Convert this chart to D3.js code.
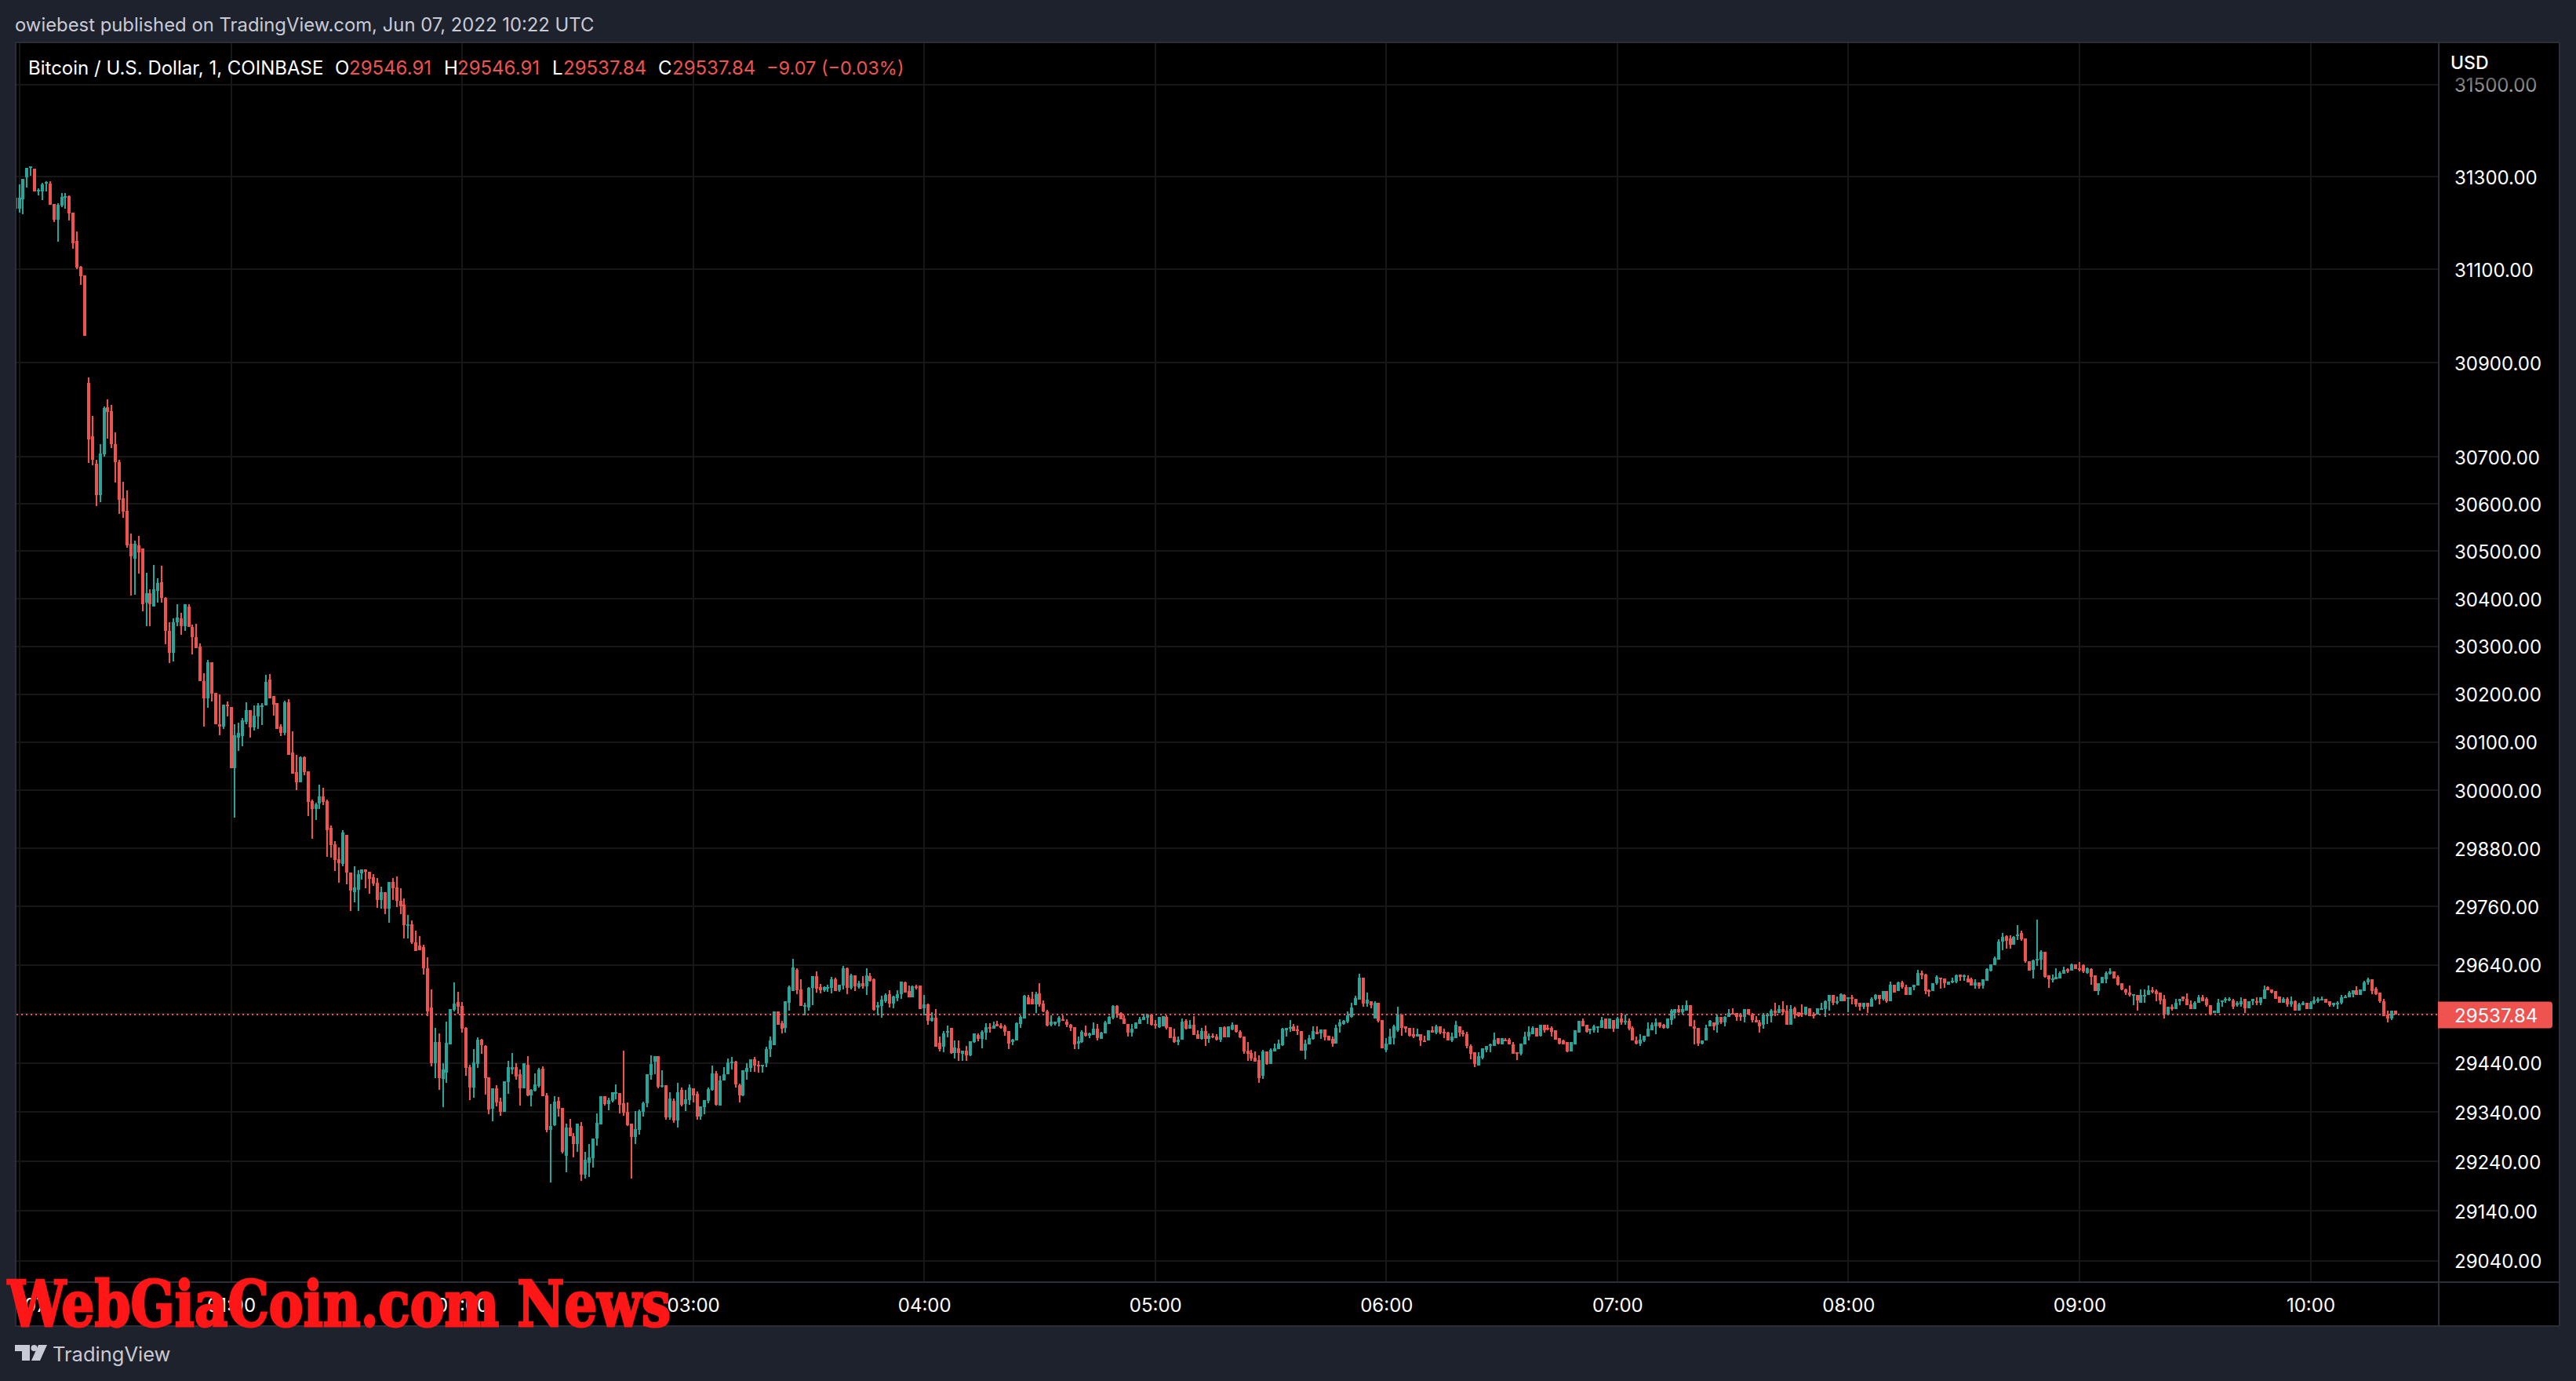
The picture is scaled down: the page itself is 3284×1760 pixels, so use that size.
<!DOCTYPE html>
<html>
<head>
<meta charset="utf-8">
<title>BTCUSD</title>
<script src="https://cdn.jsdelivr.net/npm/d3@7/dist/d3.min.js"></script>
<style>
  html, body { margin: 0; padding: 0; background: #1e222d; overflow: hidden; }
  text { font-family: Inter, "Noto Sans", sans-serif; }
</style>
</head>
<body>
<script>
// one minute candles. first bar is 00:04, last is 10:22
var FIRST_MINUTE = 4;

var opens = [
31255,31231,31251,31298,31319,31317,31268,31268,31285,31285,
31241,31207,31238,31254,31258,31222,31161,31106,31087,30857,
30743,30685,30619,30705,30805,30797,30726,30689,30611,30586,
30515,30484,30512,30506,30392,30412,30384,30417,30435,30402,
30333,30287,30351,30358,30342,30384,30340,30320,30299,30228,
30192,30266,30202,30137,30133,30179,30174,30046,30109,30112,
30143,30166,30130,30153,30174,30176,30230,30196,30181,30132,
30120,30183,30079,30038,30017,30069,30040,29978,29961,29973,
29987,29978,29923,29889,29858,29848,29907,29830,29789,29795,
29828,29836,29832,29820,29809,29774,29790,29756,29811,29799,
29771,29763,29721,29724,29686,29680,29676,29633,29553,29440,
29483,29408,29420,29478,29548,29564,29556,29511,29432,29390,
29438,29487,29475,29411,29347,29388,29361,29340,29401,29427,
29432,29417,29388,29436,29374,29384,29393,29428,29374,29304,
29313,29363,29348,29252,29308,29292,29275,29312,29214,29238,
29246,29286,29315,29372,29356,29363,29379,29379,29358,29340,
29316,29289,29304,29340,29358,29416,29443,29454,29392,29395,
29329,29363,29323,29385,29356,29364,29388,29377,29331,29350,
29363,29385,29419,29353,29404,29417,29441,29443,29395,29374,
29422,29430,29447,29436,29433,29440,29468,29476,29545,29521,
29512,29563,29587,29630,29590,29556,29553,29593,29617,29595,
29588,29592,29593,29611,29588,29598,29633,29593,29619,29595,
29602,29596,29617,29610,29553,29556,29566,29580,29561,29572,
29580,29604,29586,29574,29596,29598,29551,29559,29526,29532,
29481,29473,29503,29511,29460,29470,29459,29465,29456,29483,
29497,29489,29502,29513,29510,29519,29516,29515,29505,29483,
29486,29519,29531,29574,29570,29559,29582,29561,29545,29518,
29519,29523,29529,29524,29518,29513,29480,29483,29502,29495,
29497,29510,29489,29500,29519,29532,29556,29542,29531,29519,
29502,29510,29519,29527,29532,29539,29519,29513,29515,29534,
29513,29494,29483,29488,29526,29510,29518,29499,29489,29505,
29489,29495,29494,29487,29513,29492,29508,29518,29503,29494,
29465,29460,29451,29446,29414,29464,29438,29464,29468,29476,
29507,29510,29515,29508,29505,29465,29478,29489,29503,29500,
29508,29495,29489,29480,29515,29519,29524,29534,29558,29569,
29614,29561,29566,29531,29562,29528,29466,29478,29491,29506,
29538,29514,29512,29499,29493,29498,29486,29485,29506,29502,
29515,29504,29502,29485,29491,29515,29501,29499,29474,29461,
29435,29450,29467,29475,29475,29490,29478,29488,29488,29478,
29461,29459,29478,29493,29499,29512,29496,29517,29512,29512,
29506,29490,29486,29482,29464,29478,29502,29525,29518,29506,
29507,29514,29512,29530,29509,29528,29509,29531,29525,29525,
29512,29486,29480,29485,29494,29507,29515,29523,29517,29512,
29528,29542,29549,29544,29547,29557,29515,29512,29480,29485,
29514,29523,29517,29533,29522,29533,29542,29542,29539,29533,
29549,29539,29528,29523,29517,29538,29536,29547,29542,29550,
29546,29517,29552,29544,29542,29538,29552,29538,29538,29549,
29550,29565,29579,29563,29566,29579,29570,29573,29571,29563,
29555,29563,29554,29570,29578,29570,29586,29566,29600,29587,
29605,29595,29579,29595,29598,29624,29621,29589,29586,29602,
29614,29613,29600,29605,29606,29621,29616,29613,29611,29598,
29605,29598,29608,29629,29640,29651,29688,29699,29694,29682,
29699,29706,29694,29648,29630,29650,29651,29667,29619,29610,
29610,29613,29622,29632,29629,29642,29634,29640,29624,29632,
29618,29586,29602,29611,29622,29626,29616,29603,29590,29584,
29579,29579,29563,29576,29579,29589,29586,29584,29570,29538,
29554,29550,29566,29576,29571,29560,29550,29562,29574,29570,
29557,29541,29541,29566,29568,29570,29568,29557,29560,29570,
29552,29565,29566,29563,29571,29594,29590,29586,29576,29562,
29571,29560,29565,29546,29558,29562,29550,29562,29565,29568,
29571,29565,29557,29562,29562,29573,29573,29581,29589,29578,
29587,29605,29611,29592,29584,29566,29538,29531,29546.91
];

var highs = [
31263,31283,31295,31319,31322,31317,31275,31286,31290,31290,
31241,31243,31265,31265,31259,31222,31182,31107,31087,30868,
30787,30694,30727,30807,30822,30810,30751,30694,30646,30628,
30538,30522,30533,30506,30455,30419,30471,30443,30470,30404,
30351,30358,30389,30371,30389,30388,30345,30347,30306,30243,
30271,30266,30202,30199,30179,30184,30174,30138,30140,30151,
30183,30166,30176,30181,30181,30240,30242,30197,30181,30138,
30186,30189,30123,30073,30071,30071,30040,29981,29974,30012,
30005,29981,29927,29894,29882,29917,29907,29830,29843,29835,
29836,29836,29832,29827,29819,29801,29790,29811,29819,29822,
29798,29777,29742,29732,29710,29699,29681,29656,29590,29512,
29500,29440,29524,29550,29604,29585,29564,29513,29436,29468,
29492,29489,29476,29411,29388,29394,29369,29403,29444,29460,
29440,29427,29440,29454,29387,29419,29430,29433,29379,29356,
29372,29371,29348,29316,29326,29297,29316,29320,29259,29275,
29286,29337,29372,29372,29369,29380,29396,29379,29465,29360,
29316,29342,29345,29361,29417,29456,29454,29454,29425,29395,
29380,29368,29400,29390,29385,29396,29388,29382,29352,29364,
29390,29435,29424,29414,29431,29449,29452,29444,29398,29425,
29439,29447,29452,29444,29436,29473,29494,29545,29545,29526,
29566,29598,29652,29633,29611,29563,29595,29617,29627,29601,
29596,29599,29616,29614,29599,29638,29635,29622,29619,29607,
29617,29633,29623,29612,29564,29577,29582,29588,29577,29588,
29606,29606,29598,29598,29599,29598,29578,29561,29543,29550,
29494,29505,29516,29511,29486,29486,29465,29475,29484,29500,
29500,29507,29521,29521,29524,29526,29521,29518,29505,29489,
29523,29537,29578,29578,29585,29585,29602,29567,29548,29537,
29524,29535,29537,29529,29519,29513,29494,29507,29516,29502,
29523,29519,29503,29526,29535,29558,29558,29543,29537,29519,
29519,29523,29534,29540,29540,29539,29527,29534,29535,29537,
29513,29510,29494,29531,29529,29527,29535,29507,29511,29516,
29500,29500,29499,29513,29515,29515,29523,29518,29507,29494,
29483,29467,29464,29456,29467,29464,29470,29480,29488,29511,
29511,29527,29519,29516,29505,29488,29497,29515,29515,29508,
29508,29495,29494,29518,29529,29527,29545,29563,29577,29622,
29614,29583,29566,29565,29563,29528,29490,29510,29518,29554,
29539,29515,29512,29512,29510,29498,29496,29507,29514,29518,
29515,29509,29504,29501,29525,29515,29507,29504,29478,29462,
29461,29469,29475,29480,29501,29491,29491,29491,29490,29482,
29461,29480,29504,29515,29514,29512,29517,29517,29517,29514,
29507,29491,29488,29483,29482,29507,29526,29530,29518,29509,
29517,29515,29533,29530,29530,29528,29533,29541,29538,29531,
29514,29494,29499,29496,29522,29523,29531,29523,29520,29530,
29549,29550,29558,29557,29568,29557,29528,29512,29486,29518,
29528,29523,29538,29534,29536,29549,29552,29542,29541,29550,
29549,29541,29536,29528,29541,29541,29549,29563,29558,29565,
29557,29558,29555,29544,29560,29555,29552,29544,29552,29562,
29568,29579,29579,29576,29582,29581,29573,29578,29571,29563,
29563,29563,29573,29581,29579,29587,29586,29606,29600,29606,
29608,29600,29595,29595,29630,29629,29622,29590,29603,29618,
29614,29613,29606,29614,29621,29621,29621,29619,29614,29611,
29605,29610,29634,29642,29658,29693,29706,29701,29701,29699,
29722,29710,29694,29648,29651,29733,29670,29667,29619,29621,
29634,29627,29637,29634,29643,29642,29646,29642,29635,29634,
29618,29602,29616,29626,29634,29626,29618,29603,29592,29598,
29581,29579,29590,29590,29598,29594,29590,29584,29578,29538,
29560,29570,29571,29576,29582,29568,29566,29579,29578,29574,
29558,29547,29570,29568,29574,29573,29570,29566,29573,29571,
29566,29570,29574,29574,29598,29597,29590,29587,29576,29573,
29573,29576,29568,29562,29565,29563,29565,29576,29574,29576,
29571,29565,29563,29565,29578,29578,29586,29589,29597,29590,
29608,29614,29611,29594,29584,29570,29546,29547,29546.91
];

var lows = [
31228,31222,31219,31276,31302,31268,31259,31249,31268,31239,
31202,31160,31234,31231,31205,31145,31101,31067,30958,30687,
30682,30596,30604,30700,30738,30719,30645,30579,30570,30507,
30406,30409,30453,30374,30343,30343,30384,30392,30391,30304,
30265,30268,30342,30324,30333,30340,30283,30296,30228,30133,
30171,30184,30137,30115,30127,30153,30046,29943,30082,30091,
30137,30110,30125,30128,30135,30176,30191,30156,30128,30112,
30115,30073,30035,30000,30017,30032,29946,29899,29938,29961,
29969,29863,29861,29833,29809,29843,29805,29750,29769,29750,
29815,29797,29786,29803,29758,29756,29745,29727,29774,29759,
29744,29694,29694,29683,29668,29670,29620,29536,29433,29409,
29385,29350,29400,29478,29545,29540,29502,29414,29364,29369,
29430,29459,29376,29336,29321,29352,29332,29340,29377,29417,
29406,29353,29388,29372,29352,29382,29390,29372,29299,29198,
29312,29331,29257,29219,29291,29249,29260,29201,29206,29208,
29228,29272,29315,29353,29344,29360,29366,29337,29332,29312,
29206,29276,29294,29331,29350,29406,29417,29388,29390,29324,
29324,29318,29308,29352,29342,29355,29360,29324,29324,29336,
29358,29384,29353,29353,29404,29417,29427,29390,29360,29372,
29406,29422,29422,29420,29420,29432,29452,29476,29518,29500,
29502,29547,29587,29580,29556,29537,29547,29558,29583,29582,
29585,29585,29582,29587,29585,29590,29580,29590,29587,29592,
29591,29578,29606,29547,29537,29532,29563,29553,29551,29566,
29570,29583,29574,29574,29590,29550,29537,29518,29524,29473,
29464,29462,29492,29459,29449,29444,29444,29444,29454,29481,
29484,29470,29487,29502,29510,29515,29510,29495,29468,29476,
29486,29511,29531,29559,29559,29542,29554,29543,29515,29515,
29516,29515,29526,29513,29505,29468,29468,29481,29494,29491,
29497,29486,29489,29500,29519,29529,29532,29529,29519,29494,
29494,29510,29519,29527,29519,29516,29510,29511,29515,29508,
29491,29481,29476,29488,29508,29510,29497,29489,29487,29475,
29481,29491,29486,29483,29492,29492,29507,29502,29491,29459,
29444,29444,29443,29400,29408,29436,29438,29464,29468,29475,
29494,29503,29505,29497,29465,29448,29478,29487,29499,29489,
29486,29486,29473,29480,29502,29518,29521,29532,29558,29569,
29554,29554,29551,29531,29523,29469,29461,29477,29478,29504,
29496,29501,29494,29490,29493,29475,29485,29485,29502,29498,
29498,29491,29485,29482,29491,29493,29494,29469,29448,29432,
29435,29448,29462,29462,29475,29478,29478,29485,29477,29459,
29445,29456,29477,29485,29498,29494,29494,29501,29507,29493,
29488,29478,29477,29462,29464,29478,29502,29514,29502,29499,
29501,29501,29512,29509,29509,29504,29509,29518,29518,29507,
29486,29478,29475,29483,29494,29507,29498,29512,29510,29510,
29518,29531,29542,29539,29547,29514,29477,29474,29478,29485,
29514,29506,29501,29520,29515,29533,29538,29525,29525,29523,
29538,29523,29522,29501,29510,29520,29522,29536,29542,29538,
29517,29517,29530,29533,29534,29538,29536,29531,29538,29549,
29534,29546,29557,29560,29566,29565,29544,29560,29554,29547,
29549,29542,29554,29568,29560,29568,29563,29566,29584,29587,
29592,29579,29579,29589,29598,29610,29581,29576,29586,29600,
29592,29593,29600,29603,29602,29608,29608,29605,29598,29592,
29592,29592,29608,29627,29640,29651,29670,29674,29674,29682,
29691,29690,29645,29629,29613,29638,29630,29614,29593,29605,
29610,29613,29622,29624,29629,29632,29627,29624,29622,29600,
29587,29578,29602,29603,29621,29613,29598,29589,29578,29576,
29558,29546,29562,29563,29579,29582,29565,29560,29530,29538,
29547,29549,29558,29566,29557,29550,29549,29562,29565,29554,
29538,29541,29541,29555,29562,29566,29550,29554,29555,29541,
29552,29557,29557,29558,29571,29589,29582,29570,29562,29562,
29555,29554,29547,29546,29558,29549,29550,29560,29563,29568,
29563,29554,29555,29550,29560,29573,29573,29573,29578,29578,
29587,29600,29581,29579,29563,29536,29523,29528,29537.84
];

var closes = [
31231,31254,31295,31319,31322,31268,31271,31283,31288,31239,
31207,31239,31256,31258,31221,31156,31104,31086,30958,30736,
30694,30619,30707,30803,30795,30726,30689,30608,30584,30512,
30489,30515,30497,30389,30412,30389,30419,30433,30401,30332,
30287,30350,30360,30342,30389,30340,30319,30296,30228,30191,
30266,30201,30137,30133,30179,30176,30046,30115,30119,30145,
30166,30130,30155,30176,30176,30225,30191,30179,30128,30119,
30183,30074,30035,30017,30068,30038,29976,29961,29971,29987,
29976,29917,29887,29856,29850,29912,29830,29792,29800,29827,
29836,29832,29817,29807,29774,29790,29756,29811,29798,29772,
29761,29721,29723,29686,29668,29670,29633,29545,29440,29483,
29409,29427,29481,29550,29561,29555,29510,29430,29390,29441,
29487,29476,29409,29345,29388,29360,29340,29403,29432,29432,
29412,29388,29440,29374,29385,29396,29427,29372,29304,29312,
29361,29347,29259,29308,29291,29275,29316,29214,29243,29248,
29286,29318,29372,29356,29364,29380,29380,29355,29339,29313,
29289,29305,29342,29358,29417,29438,29454,29392,29395,29329,
29368,29323,29380,29355,29366,29390,29374,29331,29352,29364,
29387,29419,29355,29404,29417,29441,29443,29396,29374,29425,
29430,29447,29435,29433,29436,29468,29486,29545,29518,29510,
29566,29595,29635,29588,29556,29558,29593,29617,29591,29588,
29595,29595,29611,29587,29599,29633,29593,29619,29596,29603,
29596,29618,29607,29548,29558,29569,29578,29561,29575,29580,
29606,29583,29574,29596,29593,29550,29559,29526,29532,29473,
29468,29500,29505,29460,29472,29460,29465,29456,29484,29500,
29489,29503,29513,29510,29516,29515,29511,29503,29480,29488,
29521,29534,29577,29559,29559,29580,29559,29545,29516,29524,
29524,29532,29526,29518,29511,29478,29484,29503,29495,29500,
29510,29491,29502,29523,29534,29556,29540,29529,29519,29502,
29510,29523,29529,29534,29539,29518,29516,29534,29535,29511,
29491,29483,29488,29524,29510,29518,29497,29489,29505,29489,
29495,29492,29487,29513,29492,29515,29518,29503,29492,29464,
29459,29449,29443,29409,29464,29438,29467,29470,29480,29510,
29511,29513,29505,29507,29465,29480,29491,29505,29499,29508,
29492,29486,29480,29511,29523,29526,29537,29553,29572,29614,
29561,29569,29558,29563,29526,29469,29480,29493,29514,29538,
29512,29510,29496,29493,29498,29485,29485,29506,29502,29515,
29502,29501,29485,29494,29517,29501,29498,29474,29458,29437,
29454,29469,29475,29477,29488,29480,29490,29486,29477,29459,
29459,29480,29494,29504,29512,29494,29517,29507,29510,29504,
29488,29480,29478,29464,29482,29507,29526,29514,29504,29509,
29514,29515,29528,29509,29530,29509,29531,29523,29526,29509,
29486,29480,29488,29496,29510,29517,29523,29514,29512,29530,
29546,29550,29544,29549,29557,29514,29510,29480,29486,29512,
29525,29514,29534,29523,29533,29541,29538,29533,29533,29549,
29538,29528,29523,29514,29539,29539,29547,29541,29550,29544,
29517,29549,29539,29536,29538,29554,29536,29536,29552,29552,
29566,29578,29563,29566,29581,29565,29573,29570,29560,29555,
29563,29554,29571,29579,29571,29586,29565,29600,29584,29605,
29594,29579,29595,29600,29624,29619,29587,29586,29602,29616,
29613,29602,29606,29608,29619,29616,29619,29605,29598,29605,
29597,29610,29632,29642,29654,29688,29698,29690,29682,29698,
29702,29693,29648,29629,29650,29653,29667,29616,29610,29613,
29616,29624,29630,29627,29642,29632,29630,29626,29634,29616,
29587,29602,29616,29624,29627,29613,29600,29590,29584,29578,
29581,29568,29578,29579,29589,29586,29581,29568,29538,29554,
29550,29563,29570,29570,29557,29550,29563,29574,29566,29557,
29539,29546,29563,29568,29570,29571,29555,29562,29566,29552,
29566,29570,29565,29573,29590,29589,29584,29571,29562,29571,
29560,29566,29547,29560,29562,29550,29563,29568,29570,29571,
29563,29557,29562,29563,29574,29576,29584,29589,29578,29590,
29605,29611,29587,29581,29565,29536,29531,29547,29537.84
];

// price axis labels (log scale, tradingview skips around)
var priceTicks = [31500,31300,31100,30900,30700,30600,30500,30400,30300,30200,30100,30000,29880,29760,29640,29540,29440,29340,29240,29140,29040];
// minutes after midnight
var timeTicks = [5,60,120,180,240,300,360,420,480,540,600];
var timeLabels = ["07","01:00","02:00","03:00","04:00","05:00","06:00","07:00","08:00","09:00","10:00"];

var lastPrice = 29537.84;

var legendParts = [
  ["Bitcoin / U.S. Dollar, 1, COINBASE", 36, "#ffffff", 24],
  ["O", 427, "#ffffff", 24], ["29546.91", 445, "#ef5350", 24],
  ["H", 566, "#ffffff", 24], ["29546.91", 583, "#ef5350", 24],
  ["L", 704, "#ffffff", 24], ["29537.84", 718, "#ef5350", 24],
  ["C", 839, "#ffffff", 24], ["29537.84", 857, "#ef5350", 24],
  ["\u22129.07 (\u22120.03%)", 977, "#ef5350", 23.5]
];

var WIDTH = 3284;
var HEIGHT = 1760;
var UP = "#26a69a";
var DOWN = "#ef5350";
var GRID = "#171717";
var BORDER = "#2a2e39";
var PANE_LEFT = 21;
var PANE_RIGHT = 3109;
var PANE_TOP = 54;
var PANE_BOTTOM = 1634;
var AXIS_RIGHT = 3263;
var AXIS_BOTTOM = 1690;

var svg = d3.select("body").append("svg")
    .attr("width", WIDTH)
    .attr("height", HEIGHT)
    .style("display", "block");

svg.append("rect").attr("width", WIDTH).attr("height", HEIGHT).attr("fill", "#1e222d");
svg.append("rect")
    .attr("x", PANE_LEFT - 1).attr("y", PANE_TOP)
    .attr("width", AXIS_RIGHT - PANE_LEFT + 1).attr("height", AXIS_BOTTOM - PANE_TOP)
    .attr("fill", "#000000");

var defs = svg.append("defs");
defs.append("clipPath").attr("id", "pane").append("rect")
    .attr("x", PANE_LEFT).attr("y", PANE_TOP)
    .attr("width", PANE_RIGHT - PANE_LEFT).attr("height", PANE_BOTTOM - PANE_TOP);
var fade = defs.append("linearGradient").attr("id", "fade")
    .attr("x1", 0).attr("y1", 0).attr("x2", 0).attr("y2", 1);
fade.append("stop").attr("offset", "0%").attr("stop-color", "#555555");
fade.append("stop").attr("offset", "100%").attr("stop-color", "#bbbbbb");

// 60 minutes = 294.5px
var x = d3.scaleLinear().domain([0, 600]).range([0, 2945.5]);
var y = d3.scaleLog().domain([31500, 29040]).range([107.7, 1606.8]);

// grid
var grid = svg.append("g").attr("clip-path", "url(#pane)").attr("shape-rendering", "crispEdges");
grid.selectAll("line.h").data(priceTicks).enter().append("line")
    .attr("class", "h")
    .attr("x1", PANE_LEFT).attr("x2", PANE_RIGHT)
    .attr("y1", function(d) { return y(d); }).attr("y2", function(d) { return y(d); })
    .attr("stroke", GRID).attr("stroke-width", 2);
grid.selectAll("line.v").data(timeTicks).enter().append("line")
    .attr("class", "v")
    .attr("y1", PANE_TOP).attr("y2", PANE_BOTTOM)
    .attr("x1", function(d) { return x(d); }).attr("x2", function(d) { return x(d); })
    .attr("stroke", GRID).attr("stroke-width", 2);

// candles
var candles = svg.append("g").attr("clip-path", "url(#pane)").attr("shape-rendering", "crispEdges");
var idx = d3.range(closes.length);
var colour = function(i) { return closes[i] >= opens[i] ? UP : DOWN; };
var barX = function(i) { return Math.round(x(FIRST_MINUTE + i)); };

candles.selectAll("line").data(idx).enter().append("line")
    .attr("x1", barX)
    .attr("x2", barX)
    .attr("y1", function(i) { return y(highs[i]); })
    .attr("y2", function(i) { return y(lows[i]); })
    .attr("stroke", colour).attr("stroke-width", 2);

candles.selectAll("rect").data(idx).enter().append("rect")
    .attr("x", function(i) { return barX(i) - 2; })
    .attr("width", 4)
    .attr("y", function(i) { return y(Math.max(opens[i], closes[i])); })
    .attr("height", function(i) { return Math.max(2, Math.abs(y(opens[i]) - y(closes[i]))); })
    .attr("fill", colour);

// last price dotted line
svg.append("line")
    .attr("x1", PANE_LEFT).attr("x2", PANE_RIGHT)
    .attr("y1", Math.round(y(lastPrice))).attr("y2", Math.round(y(lastPrice)))
    .attr("stroke", DOWN).attr("stroke-width", 2).attr("stroke-dasharray", "2 4");

// price axis
var yAxis = d3.axisRight(y).tickValues(priceTicks).tickSize(0).tickPadding(0).tickFormat(d3.format(".2f"));
var yG = svg.append("g").attr("transform", "translate(3129,0)").call(yAxis);
yG.select(".domain").remove();
yG.selectAll("text")
    .attr("font-size", 24)
    .attr("font-family", "Inter")
    .attr("dy", "0.38em")
    .attr("fill", function(d) { return d === 31500 ? "url(#fade)" : "#ffffff"; });

// time axis
var xAxis = d3.axisBottom(x).tickValues(timeTicks).tickSize(0).tickPadding(0)
    .tickFormat(function(d, i) { return timeLabels[i]; });
var xG = svg.append("g").attr("transform", "translate(0,1654)").call(xAxis);
xG.select(".domain").remove();
xG.selectAll("text")
    .attr("font-size", 24)
    .attr("font-family", "Inter")
    .attr("fill", "#ffffff")
    .attr("dy", "0.35em")
    .attr("y", 10);
xG.selectAll(".tick").filter(function(d) { return d === 5; }).select("text")
    .attr("text-anchor", "start").attr("x", 6);

// pane borders
var borders = [
  [PANE_LEFT - 1, PANE_TOP, AXIS_RIGHT, PANE_TOP],
  [PANE_LEFT - 1, PANE_BOTTOM, AXIS_RIGHT, PANE_BOTTOM],
  [PANE_LEFT - 1, AXIS_BOTTOM, AXIS_RIGHT, AXIS_BOTTOM],
  [PANE_LEFT - 1, PANE_TOP, PANE_LEFT - 1, AXIS_BOTTOM],
  [PANE_RIGHT, PANE_TOP, PANE_RIGHT, AXIS_BOTTOM],
  [AXIS_RIGHT, PANE_TOP, AXIS_RIGHT, AXIS_BOTTOM]
];
svg.append("g").attr("shape-rendering", "crispEdges").selectAll("line").data(borders).enter().append("line")
    .attr("x1", function(d) { return d[0]; }).attr("y1", function(d) { return d[1]; })
    .attr("x2", function(d) { return d[2]; }).attr("y2", function(d) { return d[3]; })
    .attr("stroke", BORDER).attr("stroke-width", 2);

// last price label
var labelY = y(lastPrice);
svg.append("path")
    .attr("d", "M3108," + (labelY - 17) + "H3250q4,0 4,4V" + (labelY + 13) + "q0,4 -4,4H3108Z")
    .attr("fill", DOWN);
svg.append("text")
    .attr("x", 3129).attr("y", labelY).attr("dy", "0.38em")
    .attr("font-size", 24).attr("fill", "#ffffff")
    .text(d3.format(".2f")(lastPrice));

svg.append("text")
    .attr("x", 3124).attr("y", 88)
    .attr("font-size", 23).attr("font-weight", 500).attr("fill", "#ffffff")
    .text("USD");

// header + legend
svg.append("text")
    .attr("x", 19).attr("y", 40)
    .attr("font-size", 23.85).attr("fill", "#c8cad6")
    .text("owiebest published on TradingView.com, Jun 07, 2022 10:22 UTC");

svg.append("g").selectAll("text").data(legendParts).enter().append("text")
    .attr("x", function(d) { return d[1]; })
    .attr("y", 95)
    .attr("font-size", function(d) { return d[3]; })
    .attr("fill", function(d) { return d[2]; })
    .text(function(d) { return d[0]; });

// tradingview mark
var logo = svg.append("g").attr("fill", "#c8cad6");
logo.append("path").attr("d", "M19,1714H38V1734H28V1722H19Z");
logo.append("circle").attr("cx", 43.5).attr("cy", 1718).attr("r", 4);
logo.append("path").attr("d", "M49,1714H60L51,1734H40Z");
svg.append("text")
    .attr("x", 67).attr("y", 1735)
    .attr("font-size", 25.5).attr("fill", "#c8cad6")
    .text("TradingView");

// watermark sits on top of everything
svg.append("text")
    .attr("x", 10).attr("y", 1690)
    .attr("font-weight", 700)
    .attr("font-size", 80)
    .attr("textLength", 845)
    .attr("lengthAdjust", "spacingAndGlyphs")
    .attr("fill", "#ff1616")
    .attr("stroke", "#ff1616")
    .attr("stroke-width", 3)
    .style("font-family", "'DejaVu Serif'")
    .text("WebGiaCoin.com News");
</script>
</body>
</html>
